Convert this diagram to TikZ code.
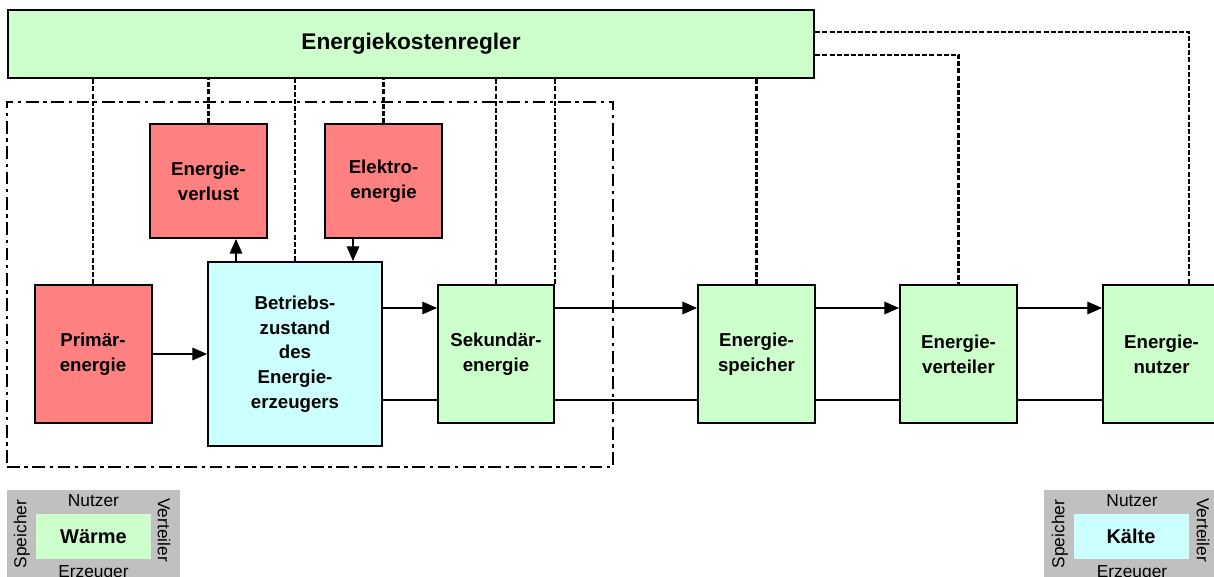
\documentclass[tikz,border=0pt]{standalone}
\usepackage{fontspec}
\setmainfont{Liberation Sans}
\usetikzlibrary{arrows.meta,calc}
\definecolor{rotl}{HTML}{FF8080}
\definecolor{gruenl}{HTML}{CCFFCC}
\definecolor{cyanl}{HTML}{CCFFFF}
\definecolor{graul}{HTML}{C0C0C0}
\begin{document}
\begin{tikzpicture}[x=0.75pt,y=-0.75pt,
  box/.style={draw,line width=1.5pt,minimum width=87.75pt,minimum height=103.5pt,
    align=center,inner sep=0pt,font=\bfseries\fontsize{14}{18.5}\selectfont},
  ctl/.style={line width=1.6pt,dash pattern=on 3.75pt off 1.6pt},
  sysbox/.style={draw,line width=1.5pt,dash pattern=on 9.5pt off 3.5pt on 2.5pt off 3.5pt,inner sep=0pt},
  arr/.style={line width=0.8pt,-{Triangle[length=11pt,width=9.5pt]}},
  flow/.style={line width=1.6pt},
  leg/.style={fill=graul,inner sep=0pt},
  legin/.style={inner sep=0pt,minimum width=86.25pt,minimum height=33.75pt,font=\bfseries\fontsize{15}{18}\selectfont},
  legtxt/.style={inner sep=0pt,font=\fontsize{13}{15}\selectfont}
]
\useasboundingbox (0,0) rectangle (1214,577);
\clip (0,0) rectangle (1214,577);

% system boundary
\node[sysbox,minimum width=454.5pt,minimum height=273.75pt] (sys) at (310,284.5) {};

% controller
\node[box,fill=gruenl,minimum width=604.5pt,minimum height=51pt,line width=2pt,
  font=\bfseries\fontsize{17}{20}\selectfont] (reg) at (411,44) {Energiekostenregler};

% boxes
\node[box,fill=rotl] (prim) at (93,354) {Primär-\\energie};
\node[box,fill=rotl,minimum height=85.5pt] (verl) at (208.5,181) {Energie-\\verlust};
\node[box,fill=rotl,minimum height=85.5pt] (elek) at (383.5,181) {Elektro-\\energie};
\node[box,fill=cyanl,minimum width=130.5pt,minimum height=138pt] (betr) at (295,354) {Betriebs-\\zustand\\des\\Energie-\\erzeugers};
\node[box,fill=gruenl,minimum width=87pt] (sek) at (496,354) {Sekundär-\\energie};
\node[box,fill=gruenl] (spei) at (756.5,354) {Energie-\\speicher};
\node[box,fill=gruenl] (vert) at (958.5,354) {Energie-\\verteiler};
\node[box,fill=gruenl] (nutz) at (1161.5,354) {Energie-\\nutzer};

% control lines
\foreach \n in {prim,verl,betr,elek,sek,spei}
  \draw[ctl] (\n.north) -- (\n.north |- reg.south);
\draw[ctl] (sek.north east) -- (sek.north east |- reg.south);
\draw[ctl] ($(reg.north east)+(0,46)$) -| (vert.north);
\coordinate (nc) at ($(nutz.north west)+(87,0)$);
\draw[ctl] ($(reg.north east)+(0,23)$) -| (nc);

% energy flows
\coordinate (ya) at (0,308);
\coordinate (yb) at (0,400);
\draw[arr] (prim.east) -- (betr.west |- prim.east);
\coordinate (a1) at ($(betr.north west)+(29,0)$);
\draw[arr] (a1) -- (a1 |- verl.south);
\coordinate (a2) at ($(betr.north east)+(-30,0)$);
\draw[arr] (a2 |- elek.south) -- (a2);
\foreach \a/\b in {betr/sek,sek/spei,spei/vert,vert/nutz}{
  \draw[arr] (\a.east |- ya) -- (\b.west |- ya);
  \draw[flow] (\a.east |- yb) -- (\b.west |- yb);
}

% legend left
\node[leg,minimum width=129.75pt,minimum height=67.5pt] (lg1) at (93.5,535) {};
\node[legin,fill=gruenl] (lw) at (93.5,536.5) {Wärme};
\node[legtxt] (ln1) at (93.5,501) {Nutzer};
\node[legtxt] (le1) at (93.5,573) {Erzeuger};
\node[legtxt,rotate=90] (ls1) at (22,534) {Speicher};
\node[legtxt,rotate=-90] (lv1) at (164,530) {Verteiler};

% legend right
\node[leg,minimum width=130.5pt,minimum height=67.5pt] (lg2) at (1131,535) {};
\node[legin,fill=cyanl] (lk) at (1131,536.5) {Kälte};
\node[legtxt] (ln2) at (1132,501) {Nutzer};
\node[legtxt] (le2) at (1132,573) {Erzeuger};
\node[legtxt,rotate=90] (ls2) at (1060,534) {Speicher};
\node[legtxt,rotate=-90] (lv2) at (1203,530) {Verteiler};
\end{tikzpicture}
\end{document}
